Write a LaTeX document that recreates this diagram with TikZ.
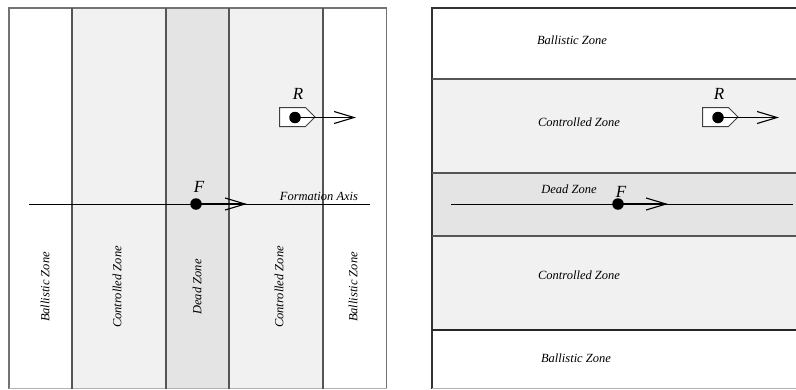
\documentclass[tikz,border=0pt]{standalone}
\usepackage{fontspec}
\setmainfont{Liberation Serif}
\usetikzlibrary{arrows.meta}
\definecolor{ctrlgray}{HTML}{F1F1F1}
\definecolor{deadgray}{HTML}{E4E4E4}
\definecolor{zoneline}{HTML}{555555}
\tikzset{
  zoneline/.style={draw=zoneline, line width=1.2pt},
  zonelabel/.style={font=\fontsize{12.5}{14}\selectfont\itshape, inner sep=0pt},
  veclabel/.style={font=\fontsize{17}{19}\selectfont\itshape, inner sep=0pt},
  dot/.style={circle, fill=black, minimum size=11.5pt, inner sep=0pt},
  axisline/.style={draw=black, line width=1pt},
  vecarrow/.style={draw=black, line width=1.4pt, -{Straight Barb[length=20pt,width=12pt,line width=1.1pt]}},
  robotbox/.style={draw=black!75, fill=white, line width=1pt}
}
\begin{document}
\begin{tikzpicture}[x=1pt,y=-1pt]
\useasboundingbox (0,0) rectangle (796,389);
% ---------------- left panel ----------------
\fill[ctrlgray] (72,8) rectangle (166,388.5);
\fill[deadgray] (166,8) rectangle (229,388.5);
\fill[ctrlgray] (229,8) rectangle (323,388.5);
\draw[zoneline, draw=black!55] (9,388.5) -- (9,8) -- (386.5,8) -- (386.5,388.5);
\draw[zoneline, draw=black!30] (9,388.5) -- (386.5,388.5);
\draw[zoneline] (72,8) -- (72,388.5);
\draw[zoneline] (166,8) -- (166,388.5);
\draw[zoneline] (229,8) -- (229,388.5);
\draw[zoneline] (323,8) -- (323,388.5);
\node[zonelabel, rotate=90] (lb1) at (45,287) {Ballistic Zone};
\node[zonelabel, rotate=90] (lc1) at (117,287) {Controlled Zone};
\node[zonelabel, rotate=90] (ld) at (197,287) {Dead Zone};
\node[zonelabel, rotate=90] (lc2) at (279,287) {Controlled Zone};
\node[zonelabel, rotate=90] (lb2) at (353,287) {Ballistic Zone};
% formation axis
\coordinate (lax1) at (29,204);
\coordinate (lax2) at (370,204);
\draw[axisline] (lax1) -- (lax2);
\node[zonelabel, anchor=base] (lfa) at (319,200.5) {Formation Axis};
% F
\node[dot] (lF) at (196,204) {};
\coordinate (lFend) at (247,204);
\draw[vecarrow] (lF.center) -- (lFend);
\node[veclabel] (lFlab) at (199,187) {F};
% R
\draw[robotbox] (279.5,107.5) -- (305.5,107.5) -- (315,117) -- (305.5,126.5) -- (279.5,126.5) -- cycle;
\node[dot] (lR) at (295,117.5) {};
\coordinate (lRend) at (356,117.5);
\draw[vecarrow] (lR.center) -- (lRend);
\node[veclabel] (lRlab) at (298,94) {R};
% ---------------- right panel ----------------
\fill[ctrlgray] (432,79) rectangle (796,173);
\fill[deadgray] (432,173) rectangle (796,236);
\fill[ctrlgray] (432,236) rectangle (796,330);
\draw[zoneline, draw=black!80] (796,8) -- (432,8) -- (432,388.5);
\draw[zoneline, draw=black!30] (432,388.5) -- (796,388.5);
\draw[zoneline] (432,79) -- (796,79);
\draw[zoneline] (432,173) -- (796,173);
\draw[zoneline] (432,236) -- (796,236);
\draw[zoneline, draw=black!85] (432,330) -- (796,330);
\node[zonelabel] (rb1) at (572,40) {Ballistic Zone};
\node[zonelabel] (rc1) at (579,122) {Controlled Zone};
\node[zonelabel] (rd) at (569,189) {Dead Zone};
\node[zonelabel] (rc2) at (579,275) {Controlled Zone};
\node[zonelabel] (rb2) at (576,358) {Ballistic Zone};
\coordinate (rax1) at (451,204);
\coordinate (rax2) at (793,204);
\draw[axisline] (rax1) -- (rax2);
\node[dot] (rF) at (618,204) {};
\coordinate (rFend) at (668,204);
\draw[vecarrow] (rF.center) -- (rFend);
\node[veclabel] (rFlab) at (621,192) {F};
\draw[robotbox] (702.5,107.5) -- (728.5,107.5) -- (738,117) -- (728.5,126.5) -- (702.5,126.5) -- cycle;
\node[dot] (rR) at (718,117.5) {};
\coordinate (rRend) at (779,117.5);
\draw[vecarrow] (rR.center) -- (rRend);
\node[veclabel] (rRlab) at (719,94) {R};
\end{tikzpicture}
\end{document}
